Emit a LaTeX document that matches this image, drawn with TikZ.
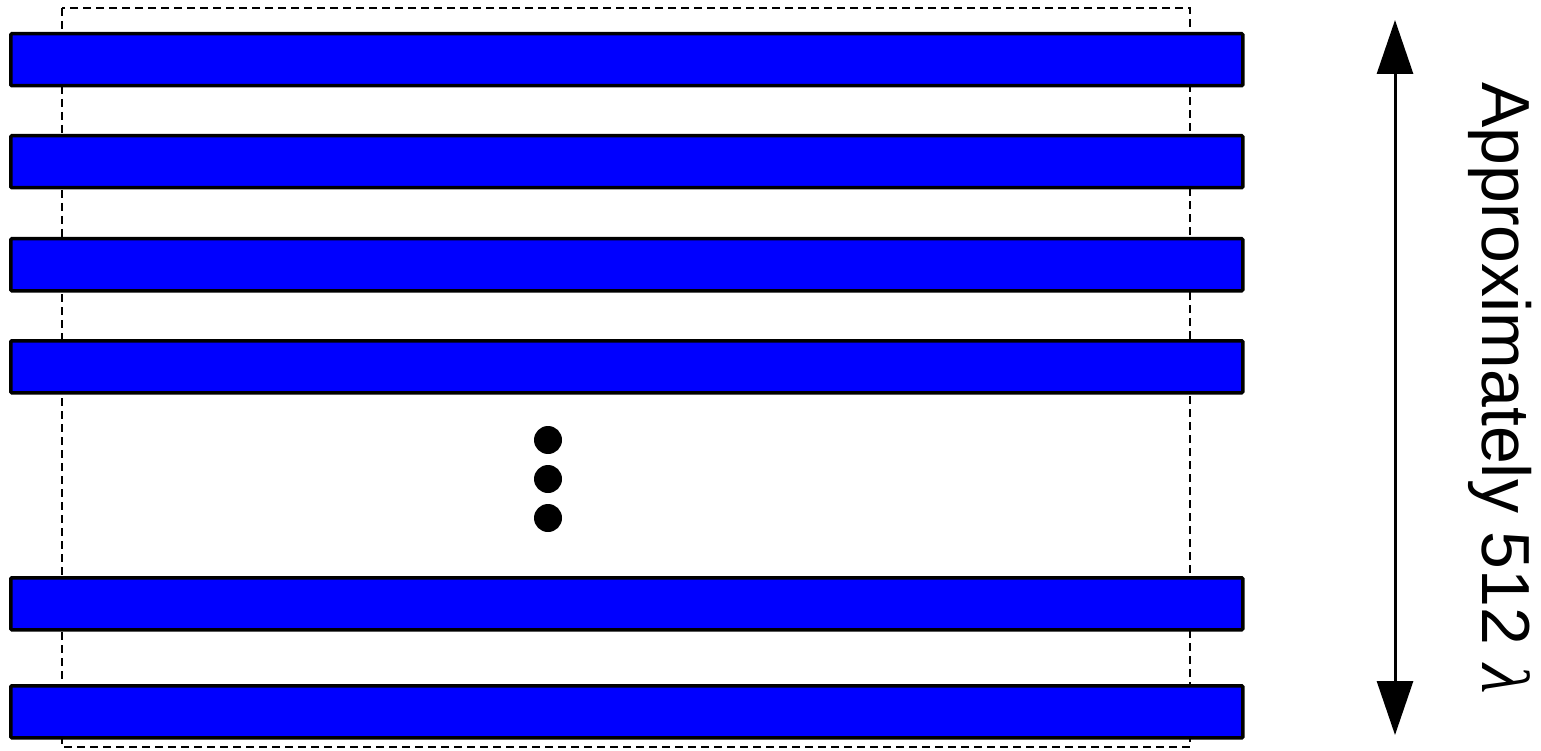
\documentclass[tikz,border=0pt]{standalone}
\usepackage{fontspec}
\setmainfont{Liberation Sans}
\newfontfamily\lamfont{Liberation Serif}
\usetikzlibrary{arrows.meta}
\begin{document}
\begin{tikzpicture}[x=1pt,y=-1pt,
  bar/.style={draw=black,line width=3.5pt,fill={rgb,255:red,0;green,0;blue,255},minimum width=1232pt,minimum height=52pt,inner sep=0pt,anchor=north west,rounded corners=1pt},
  dot/.style={circle,fill=black,minimum size=28pt,inner sep=0pt},
  frame/.style={draw=black,line width=2.2pt,dash pattern=on 8pt off 5pt}]
\useasboundingbox (0,0) rectangle (1541,751);
\draw[frame] (62,8) rectangle (1190,747);
\node[bar] (b1) at (9,32) {};
\node[bar] (b2) at (9,134) {};
\node[bar] (b3) at (9,237) {};
\node[bar] (b4) at (9,339) {};
\node[bar] (b5) at (9,576) {};
\node[bar] (b6) at (9,684) {};
\node[dot] (d1) at (548,440) {};
\node[dot] (d2) at (548,479) {};
\node[dot] (d3) at (548,518) {};
\coordinate (top) at (1395,20);
\coordinate (bot) at (1395,735);
\draw[line width=3pt,{Triangle[length=54pt,width=36pt]}-{Triangle[length=54pt,width=36pt]}] (top) -- (bot);
\node[rotate=-90,font=\fontsize{68}{80}\selectfont,inner sep=0pt] (lbl) at (1500,388) {Approximately 512 {\lamfont\itshape λ}};
\end{tikzpicture}
\end{document}
